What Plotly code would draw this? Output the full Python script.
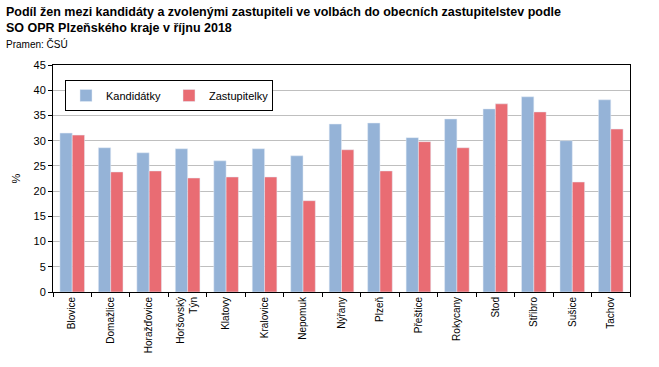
import plotly.graph_objects as go

categories = ["Blovice", "Domažlice", "Horažďovice", "Horšovský<br>Týn", "Klatovy", "Kralovice",
              "Nepomuk", "Nýřany", "Plzeň", "Přeštice", "Rokycany", "Stod", "Stříbro", "Sušice", "Tachov"]
kandidatky = [31.5, 28.6, 27.6, 28.4, 26.0, 28.4, 27.0, 33.3, 33.5, 30.6, 34.3, 36.3, 38.7, 30.0, 38.1]
zastupitelky = [31.1, 23.8, 24.0, 22.6, 22.8, 22.8, 18.1, 28.2, 24.0, 29.8, 28.6, 37.3, 35.7, 21.8, 32.3]
y_ticks = [0, 5, 10, 15, 20, 25, 30, 35, 40, 45]

FONT = "Liberation Sans, Arial, sans-serif"

fig = go.Figure()
fig.add_bar(x=categories, y=kandidatky, name="Kandidátky", marker_color="#95B3D7")
fig.add_bar(x=categories, y=zastupitelky, name="Zastupitelky", marker_color="#E96C73")

PW = 577
PH = 227
fig.update_layout(
    width=659, height=367,
    margin=dict(l=53, r=29, t=65, b=75),
    paper_bgcolor="white", plot_bgcolor="white",
    font=dict(family=FONT, size=11, color="black"),
    barmode="group", bargap=0.36, bargroupgap=0,
    showlegend=True,
    legend=dict(orientation="h", x=12/PW, y=(292-80)/PH, xanchor="left", yanchor="top",
                bordercolor="black", borderwidth=1, bgcolor="white",
                font=dict(size=11, family=FONT), entrywidth=58, traceorder="normal"),
    annotations=[
        dict(text="<b>Podíl žen mezi kandidáty a zvolenými zastupiteli ve volbách do obecních zastupitelstev podle</b>",
             xref="paper", yref="paper", x=-49/PW, y=(292-12)/PH, xanchor="left", yanchor="middle",
             showarrow=False, font=dict(size=12.5, family=FONT)),
        dict(text="<b>SO OPR Plzeňského kraje v říjnu 2018</b>",
             xref="paper", yref="paper", x=-49/PW, y=(292-28)/PH, xanchor="left", yanchor="middle",
             showarrow=False, font=dict(size=12.5, family=FONT)),
        dict(text="Pramen: ČSÚ",
             xref="paper", yref="paper", x=-49/PW, y=(292-44)/PH, xanchor="left", yanchor="middle",
             showarrow=False, font=dict(size=10, family=FONT)),
    ],
)

fig.update_xaxes(
    type="category", tickangle=-90, tickson="boundaries", ticks="outside", ticklen=4,
    tickcolor="black", showline=True, linecolor="black", linewidth=1, mirror=True,
    showgrid=False, tickfont=dict(size=10, family=FONT), automargin=False,
)
fig.update_yaxes(
    range=[0, 45], tickvals=y_ticks, ticks="outside", ticklen=4, tickcolor="black",
    showline=True, linecolor="black", linewidth=1, mirror=True,
    showgrid=True, gridcolor="#BFBFBF", gridwidth=1, zeroline=False, automargin=False,
    title=dict(text="%", standoff=10, font=dict(size=11, family=FONT)),
    tickfont=dict(size=11, family=FONT),
)

fig.write_html("out.html", config={"displayModeBar": False},
               post_script="document.body.style.margin='0';")
